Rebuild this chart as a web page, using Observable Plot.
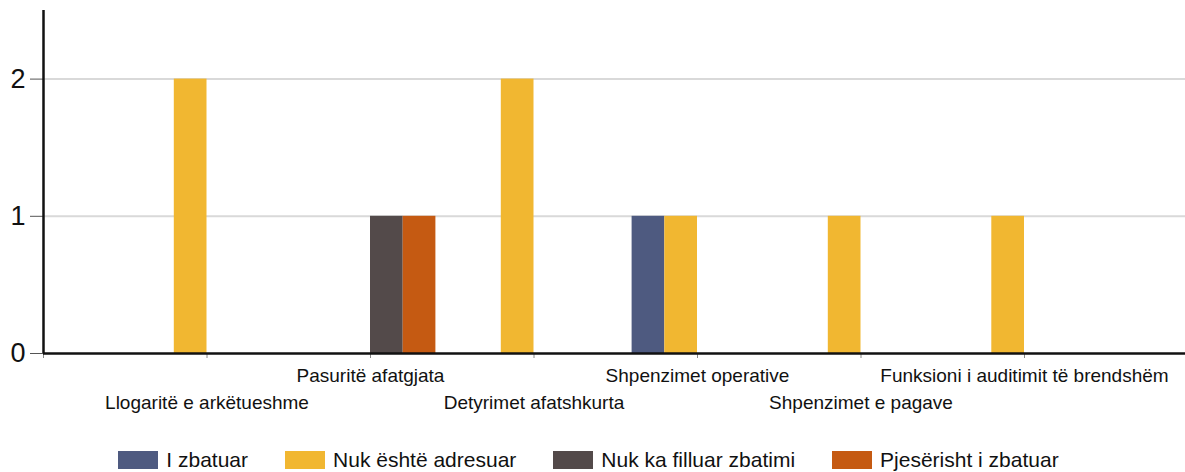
<!DOCTYPE html>
<html>
<head>
<meta charset="utf-8">
<script src="https://cdn.jsdelivr.net/npm/d3@7"></script>
<script src="https://cdn.jsdelivr.net/npm/@observablehq/plot@0.6"></script>
<style>
  html, body { margin: 0; padding: 0; background: #fff; }
  body { width: 1185px; font-family: "Liberation Sans", Arial, sans-serif; }
  #legend { display: flex; justify-content: center; align-items: center; gap: 37px; margin-top: 18px; padding-right: 8px; font-size: 21px; color: #111; }
  .item { display: flex; align-items: center; gap: 8px; }
  .sw { width: 40px; height: 18px; display: inline-block; }
</style>
</head>
<body>
<div id="chart"></div>
<div id="legend"></div>
<script>
const categories = ["Llogaritë e arkëtueshme", "Pasuritë afatgjata", "Detyrimet afatshkurta", "Shpenzimet operative", "Shpenzimet e pagave", "Funksioni i auditimit të brendshëm"];
const series = ["I zbatuar", "Nuk është adresuar", "Nuk ka filluar zbatimi", "Pjesërisht i zbatuar"];
const colors = ["#4e5a80", "#f1b731", "#534a4a", "#c55a12"];
const iZbatuar = [0, 0, 0, 1, 0, 0];
const nukEshteAdresuar = [2, 0, 2, 1, 1, 1];
const nukKaFilluar = [0, 1, 0, 0, 0, 0];
const pjeserisht = [0, 1, 0, 0, 0, 0];
const yTicks = [0, 1, 2];

const valuesBySeries = [iZbatuar, nukEshteAdresuar, nukKaFilluar, pjeserisht];
const offset = d3.scaleBand().domain(series).range([-0.4, 0.4]);
const data = [];
categories.forEach((c, i) => {
  series.forEach((s, k) => {
    const v = valuesBySeries[k][i];
    if (v > 0) data.push({category: c, idx: i + 1, series: s, value: v});
  });
});

const chart = Plot.plot({
  width: 1185,
  height: 430,
  marginLeft: 43,
  marginRight: 0,
  marginTop: 10,
  marginBottom: 77,
  style: {fontFamily: "Liberation Sans, Arial, sans-serif", color: "#111", background: "#fff"},
  x: {type: "linear", domain: [0, 7], range: [43, 1187.5], label: null},
  y: {domain: [0, 2.5], label: null},
  color: {domain: series, range: colors},
  marks: [
    Plot.ruleY(yTicks.filter(d => d > 0), {stroke: "#d9d9d9", strokeWidth: 2}),
    Plot.rectY(data, {
      x1: d => d.idx + offset(d.series),
      x2: d => d.idx + offset(d.series) + offset.bandwidth(),
      y: "value",
      fill: "series"
    }),
    Plot.axisY({ticks: yTicks, tickSize: 13, tickPadding: 5, fontSize: 27, stroke: "#555", tickFormat: d3.format("d"), label: null}),
    Plot.axisX({ticks: d3.range(0, 8), tickSize: 5, tickFormat: () => "", stroke: "#888", label: null}),
    Plot.axisX({ticks: [2, 4, 6], tickSize: 0, tickPadding: 15, fontSize: 19, tickFormat: i => categories[i - 1], label: null}),
    Plot.axisX({ticks: [1, 3, 5], tickSize: 0, tickPadding: 42, fontSize: 19, tickFormat: i => categories[i - 1], label: null}),
    Plot.ruleY([0], {stroke: "#111", strokeWidth: 2.5}),
    Plot.ruleX([0], {y1: 0, y2: 2.5, stroke: "#111", strokeWidth: 2.5})
  ]
});
document.getElementById("chart").appendChild(chart);

const legend = document.getElementById("legend");
series.forEach((s, k) => {
  const it = document.createElement("div");
  it.className = "item";
  const sw = document.createElement("span");
  sw.className = "sw";
  sw.style.background = colors[k];
  const t = document.createElement("span");
  t.textContent = s;
  it.appendChild(sw);
  it.appendChild(t);
  legend.appendChild(it);
});
</script>
</body>
</html>
